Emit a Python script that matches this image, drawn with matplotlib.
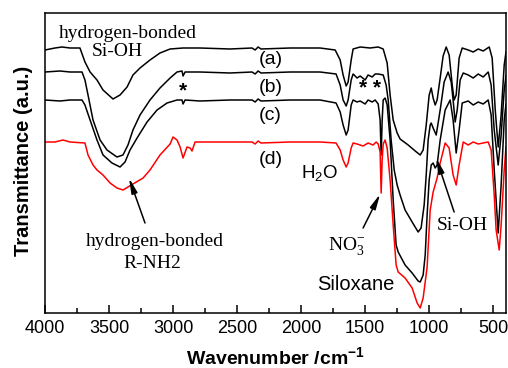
import numpy as np
import matplotlib
matplotlib.use("Agg")
import matplotlib.pyplot as plt
from matplotlib.ticker import MultipleLocator

# FTIR spectra, transmittance in arbitrary units (curves offset vertically)
wn_a = [4000, 3961, 3922, 3867, 3805, 3727, 3688, 3648, 3594, 3547, 3469, 3414, 3359, 3313,
        3258, 3180, 3102, 3023, 2922, 2789, 2555, 2383, 2359, 2336, 2313, 2086, 1852, 1734,
        1695, 1672, 1648, 1633, 1609, 1594, 1539, 1461, 1398, 1359, 1328, 1305, 1281, 1250,
        1227, 1164, 1109, 1070, 1047, 1023, 1000, 984, 969, 953, 938, 914, 891, 867, 844,
        820, 805, 789, 766, 742, 695, 656, 617, 578, 531, 508, 484, 461, 438, 414, 400]
t_a = [263, 264, 265, 266, 265, 265, 251, 241, 233, 223, 214, 218, 226, 238,
       245, 253, 260, 264, 265, 265, 264, 265, 263, 266, 264, 265, 265, 263,
       253, 238, 227, 231, 253, 264, 266, 265, 266, 264, 250, 218, 193, 180,
       174, 168, 162, 158, 163, 188, 218, 225, 215, 208, 213, 235, 257, 266, 258,
       228, 213, 218, 255, 265, 263, 261, 264, 262, 266, 255, 203, 166, 198, 248, 261]

wn_b = [4000, 3883, 3805, 3711, 3688, 3664, 3625, 3570, 3516, 3438, 3391, 3352, 3313, 3258,
        3180, 3102, 3023, 2969, 2930, 2922, 2906, 2789, 2555, 2383, 2359, 2336, 2313, 2086,
        1852, 1727, 1695, 1672, 1648, 1633, 1609, 1594, 1563, 1539, 1500, 1477, 1445, 1422,
        1398, 1359, 1336, 1320, 1297, 1273, 1250, 1227, 1188, 1133, 1086, 1063, 1039, 1023,
        1008, 992, 984, 969, 945, 914, 883, 852, 828, 813, 797, 781, 758, 734, 695, 656,
        617, 578, 539, 516, 492, 461, 438, 414, 400]
t_b = [241, 242, 241, 241, 233, 218, 193, 173, 163, 156, 158, 168, 183, 198,
       213, 225, 235, 241, 242, 237, 241, 241, 240, 241, 239, 242, 240, 241,
       241, 239, 228, 213, 207, 213, 233, 239, 235, 237, 233, 238, 236, 239,
       239, 238, 228, 213, 173, 143, 128, 118, 103, 91, 81, 85, 108, 138,
       173, 188, 190, 185, 178, 203, 231, 241, 231, 213, 191, 203, 233, 240, 238, 235,
       239, 236, 241, 228, 183, 148, 178, 223, 237]

wn_c = [4000, 3883, 3805, 3711, 3688, 3648, 3594, 3547, 3477, 3414, 3375, 3336, 3281, 3203,
        3125, 3047, 2969, 2930, 2922, 2906, 2789, 2555, 2383, 2359, 2336, 2313, 2086, 1852,
        1727, 1695, 1672, 1648, 1633, 1609, 1594, 1563, 1539, 1500, 1477, 1445, 1422, 1398,
        1383, 1375, 1367, 1359, 1344, 1328, 1305, 1281, 1258, 1242, 1188, 1133, 1086, 1070,
        1047, 1031, 1016, 1000, 984, 969, 953, 938, 914, 875, 836, 813, 789, 766, 742, 695,
        656, 617, 578, 539, 516, 492, 461, 438, 414, 400]
t_c = [213, 212, 213, 213, 208, 193, 173, 158, 150, 146, 151, 163, 175, 191,
       203, 210, 213, 213, 209, 213, 212, 213, 213, 211, 214, 212, 213, 213,
       210, 201, 188, 178, 183, 208, 213, 211, 212, 209, 213, 211, 213, 209,
       193, 158, 193, 213, 215, 208, 173, 113, 68, 61, 48, 40, 32, 31,
       38, 58, 98, 133, 148, 150, 145, 148, 173, 203, 213, 193, 160, 183, 210, 212,
       208, 211, 209, 213, 198, 143, 80, 128, 193, 209]

wn_d = [4000, 3922, 3859, 3805, 3688, 3664, 3625, 3594, 3547, 3492, 3438, 3391, 3313, 3234,
        3180, 3102, 3023, 3000, 2969, 2945, 2922, 2891, 2867, 2852, 2828, 2555, 2383, 2359,
        2336, 2313, 2086, 1852, 1727, 1695, 1672, 1648, 1633, 1609, 1594, 1563, 1516, 1477,
        1438, 1414, 1398, 1383, 1375, 1367, 1359, 1344, 1328, 1305, 1281, 1258, 1242, 1188,
        1133, 1094, 1070, 1047, 1016, 992, 969, 938, 914, 875, 844, 813, 789, 766, 734,
        695, 656, 617, 578, 539, 516, 492, 477, 453, 438, 414, 400]
t_d = [171, 171, 173, 171, 170, 158, 148, 143, 138, 130, 125, 123, 129, 135,
       143, 158, 169, 176, 173, 166, 155, 166, 165, 162, 171, 171, 171, 169,
       172, 170, 171, 171, 170, 163, 153, 146, 150, 165, 170, 169, 167, 170,
       168, 171, 169, 161, 120, 153, 169, 173, 165, 133, 88, 48, 41, 35,
       25, 10, 5, 15, 46, 103, 121, 135, 150, 170, 165, 138, 128, 148, 171,
       168, 171, 169, 170, 171, 163, 118, 83, 63, 88, 143, 166]

curve_tags = ["(a)", "(b)", "(c)", "(d)"]

plt.rcParams['font.family'] = ['Liberation Sans', 'DejaVu Sans']
plt.rcParams['mathtext.fontset'] = 'custom'
plt.rcParams['mathtext.rm'] = 'Liberation Sans'

fig = plt.figure(figsize=(5.08, 3.68), dpi=100)
ax = fig.add_axes([45 / 508, 55 / 368, 461 / 508, 300 / 368])

lw = 1.1
ax.plot(wn_a, t_a, color='black', lw=lw)
ax.plot(wn_b, t_b, color='black', lw=lw)
ax.plot(wn_c, t_c, color='black', lw=lw)
ax.plot(wn_d, t_d, color='red', lw=lw)

ax.set_xlim(4000, 400)
ax.set_ylim(0, 300)
ax.set_yticks([])
ax.xaxis.set_major_locator(MultipleLocator(500))
ax.xaxis.set_minor_locator(MultipleLocator(250))
ax.tick_params(axis='x', which='major', direction='in', length=6, width=1.1,
               labelsize=13, pad=5)
ax.tick_params(axis='x', which='minor', direction='in', length=3.5, width=1.1)
for sp in ax.spines.values():
    sp.set_linewidth(1.1)

ax.set_xlabel('Wavenumber /cm$^{\\mathdefault{-1}}$', fontsize=14, fontweight='bold')
ax.xaxis.set_label_coords(0.5, -0.112)
ax.set_ylabel('Transmittance (a.u.)', fontsize=14.5, fontweight='bold')
ax.yaxis.set_label_coords(-0.026, 0.507)

# curve tags
for tag, ty in zip(curve_tags, [254, 226, 197, 153]):
    ax.text(2240, ty, tag, fontsize=14, ha='center', va='center')

serif = 'Liberation Serif'
ax.text(3355, 280, 'hydrogen-bonded', family=serif, fontsize=14, ha='center', va='center')
ax.text(3437, 261, 'Si-OH', family=serif, fontsize=14, ha='center', va='center')
ax.text(3141, 71, 'hydrogen-bonded', family=serif, fontsize=14, ha='center', va='center')
ax.text(3164, 49, 'R-NH2', family=serif, fontsize=14, ha='center', va='center')
ax.text(742, 88, 'Si-OH', family=serif, fontsize=14, ha='center', va='center')
ax.text(1648, 63, 'NO$_{\\mathdefault{3}}^{\\mathdefault{-}}$', family=serif, fontsize=14,
        ha='center', va='baseline')
ax.text(1852, 139, 'H$_{\\mathdefault{2}}$O', fontsize=13.5, ha='center', va='center')
ax.text(1570, 28, 'Siloxane', fontsize=14.5, ha='center', va='center')

# band markers
ax.text(2922, 222, '*', fontsize=15, fontweight='bold', ha='center', va='center')
ax.text(1461, 225, '* *', fontsize=15, fontweight='bold', ha='center', va='center')

arrow = dict(arrowstyle='-|>,head_length=0.9,head_width=0.18', color='black', lw=1.1,
             shrinkA=0, shrinkB=0)
ax.annotate('', xy=(3344, 135), xytext=(3219, 90), arrowprops=arrow)
ax.annotate('', xy=(1383, 119), xytext=(1516, 85), arrowprops=arrow)
ax.annotate('', xy=(945, 155), xytext=(805, 101), arrowprops=arrow)

fig.savefig('out.png', dpi=100)
